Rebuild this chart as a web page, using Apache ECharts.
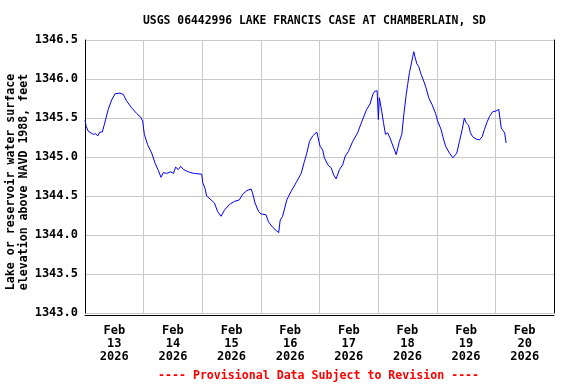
<!DOCTYPE html>
<html>
<head>
<meta charset="utf-8">
<script src="https://cdn.jsdelivr.net/npm/echarts@6/dist/echarts.min.js"></script>
<style>html,body{margin:0;padding:0;background:#fff}#c{width:576px;height:384px}</style>
</head>
<body>
<div id="c"></div>
<script>
// Hours since Feb 13 2026 00:00
const hours = [0, 0.5, 1.35, 3.4, 4.3, 5.2, 6.1, 7.1, 8.2, 9.5, 10.9, 12.3, 14.3, 15.7, 17.0, 19.1, 21.1, 22.8, 23.6, 24.3,
  25.6, 27.3, 28.7, 30.0, 31.1, 32.1, 33.4, 35.1, 36.2, 37.1, 38.2, 39.2, 40.3, 42.3, 44.4, 47.8, 48.2, 49.1, 49.8, 51.6,
  53.0, 54.3, 55.7, 57.1, 59.1, 61.1, 63.2, 64.5, 66.3, 68.0, 68.6, 69.6, 71.1, 72.1, 74.1, 75.1, 76.8, 78.2, 79.3, 79.9,
  80.9, 82.6, 84.4, 86.4, 88.5, 89.8, 90.8, 91.9, 93.2, 94.9, 95.7, 96.2, 97.3, 98.0, 99.4, 100.8, 101.8, 102.8, 103.5, 104.2,
  105.5, 106.5, 107.8, 109.6, 111.6, 113.4, 115.3, 116.7, 117.8, 118.5, 119.2, 119.6, 120.1, 120.5, 121.5, 122.2, 123.0, 123.9, 124.9, 125.6,
  126.7, 127.4, 128.7, 129.7, 130.5, 131.5, 132.1, 132.8, 133.5, 134.2, 134.6, 135.2, 135.8, 136.6, 137.6, 138.7, 139.7, 140.7, 142.1, 143.5,
  144.4, 145.8, 146.5, 147.6, 149.2, 150.6, 151.3, 152.2, 153.3, 154.4, 155.3, 156.0, 157.0, 157.8, 158.7, 160.1, 161.5, 162.6, 163.5, 164.5,
  165.6, 166.9, 168.3, 169.4, 170.4, 171.1, 171.8, 172.4];
const levels = [1345.47, 1345.39, 1345.33, 1345.29, 1345.30, 1345.27, 1345.32, 1345.32, 1345.45, 1345.61, 1345.73, 1345.81, 1345.82, 1345.80, 1345.72, 1345.63, 1345.56, 1345.51, 1345.46, 1345.29,
  1345.16, 1345.05, 1344.92, 1344.83, 1344.74, 1344.80, 1344.79, 1344.81, 1344.79, 1344.87, 1344.84, 1344.88, 1344.84, 1344.81, 1344.79, 1344.78, 1344.67, 1344.60, 1344.50, 1344.45,
  1344.41, 1344.30, 1344.24, 1344.32, 1344.39, 1344.43, 1344.45, 1344.52, 1344.57, 1344.59, 1344.54, 1344.41, 1344.30, 1344.27, 1344.26, 1344.17, 1344.10, 1344.06, 1344.03, 1344.19,
  1344.24, 1344.45, 1344.56, 1344.67, 1344.79, 1344.94, 1345.05, 1345.20, 1345.27, 1345.32, 1345.30, 1345.14, 1345.09, 1344.99, 1344.90, 1344.86, 1344.77, 1344.72, 1344.71, 1344.84,
  1344.90, 1345.01, 1345.07, 1345.20, 1345.31, 1345.46, 1345.61, 1345.68, 1345.80, 1345.84, 1345.82, 1345.85, 1345.48, 1345.76, 1345.58, 1345.44, 1345.29, 1345.31, 1345.24, 1345.18,
  1345.09, 1345.03, 1345.20, 1345.29, 1345.54, 1345.80, 1345.93, 1346.08, 1346.18, 1346.29, 1346.35, 1346.27, 1346.20, 1346.16, 1346.06, 1345.97, 1345.88, 1345.76, 1345.67, 1345.56,
  1345.46, 1345.35, 1345.26, 1345.14, 1345.05, 1344.99, 1344.97, 1345.05, 1345.20, 1345.35, 1345.50, 1345.44, 1345.41, 1345.31, 1345.26, 1345.23, 1345.22, 1345.26, 1345.35, 1345.44,
  1345.52, 1345.58, 1345.59, 1345.61, 1345.37, 1345.34, 1345.31, 1345.18];
const dayLabels = ['Feb\n13\n2026', 'Feb\n14\n2026', 'Feb\n15\n2026', 'Feb\n16\n2026', 'Feb\n17\n2026', 'Feb\n18\n2026', 'Feb\n19\n2026', 'Feb\n20\n2026'];
const titleText = 'USGS 06442996 LAKE FRANCIS CASE AT CHAMBERLAIN, SD';
const footerText = '---- Provisional Data Subject to Revision ----';
const yName = 'Lake or reservoir water surface\nelevation above NAVD 1988, feet';

const FONT = "'DejaVu Sans Mono', monospace";
const data = hours.map((h, i) => [h, levels[i]]);
const chart = echarts.init(document.getElementById('c'), null, {renderer: 'canvas'});
chart.setOption({
  animation: false,
  backgroundColor: '#ffffff',
  title: [
    {text: titleText, left: 143, top: 16, padding: 0,
     textStyle: {fontFamily: FONT, fontWeight: 'bold', fontSize: 11.4, color: '#000'}},
    {text: footerText, left: 158, top: 370, padding: 0,
     textStyle: {fontFamily: FONT, fontWeight: 'bold', fontSize: 11.6, color: '#ff0000'}}
  ],
  grid: {left: 85, right: 22, top: 40, bottom: 71, containLabel: false, outerBoundsMode: 'none'},
  xAxis: [
    {type: 'value', min: 0, max: 192, interval: 24,
     axisLine: {show: false}, axisTick: {show: false}, axisLabel: {show: false},
     splitLine: {show: true, lineStyle: {color: '#c8c8c8', width: 1}}},
    {type: 'category', data: dayLabels, boundaryGap: true, position: 'bottom', offset: 2,
     axisLine: {show: true, lineStyle: {color: '#000', width: 1}}, axisTick: {show: false},
     splitLine: {show: false},
     axisLabel: {fontFamily: FONT, fontWeight: 'bold', fontSize: 12, lineHeight: 13, color: '#000', margin: 9, interval: 0}}
  ],
  yAxis: [
    {type: 'value', min: 1343, max: 1346.5, interval: 0.5, position: 'left',
     name: yName, nameLocation: 'middle', nameRotate: 90, nameGap: 54, nameMoveOverlap: false,
     nameTextStyle: {fontFamily: FONT, fontWeight: 'bold', fontSize: 11.6, lineHeight: 13.4, color: '#000', padding: [0, 11, 0, 0]},
     axisLine: {show: true, lineStyle: {color: '#000', width: 1}}, axisTick: {show: false},
     axisLabel: {fontFamily: FONT, fontWeight: 'bold', fontSize: 12, color: '#000', margin: 7, padding: [4, 0, 0, 0],
       formatter: v => v.toFixed(1)},
     splitLine: {show: true, lineStyle: {color: '#c8c8c8', width: 1}}},
    {type: 'value', min: 1343, max: 1346.5, interval: 0.5, position: 'right',
     axisLine: {show: true, lineStyle: {color: '#000', width: 1}}, axisTick: {show: false},
     axisLabel: {show: false}, splitLine: {show: false}}
  ],
  series: [{
    type: 'line', xAxisIndex: 0, yAxisIndex: 0, data: data,
    showSymbol: false, symbol: 'none',
    lineStyle: {color: '#0000ff', width: 1}
  }]
});
</script>
</body>
</html>
